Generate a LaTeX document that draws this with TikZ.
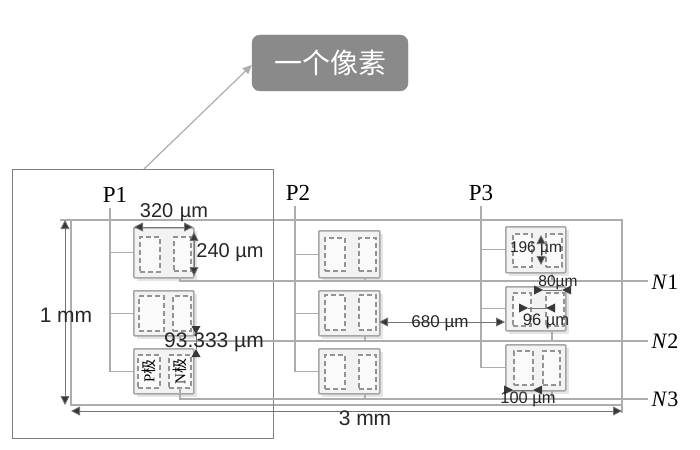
\documentclass[tikz,border=0pt]{standalone}
\usepackage{fontspec}
\setmainfont{Liberation Sans}
\newfontfamily\serifrm{Liberation Serif}
\newfontfamily\cjk{Noto Sans CJK SC}
\usetikzlibrary{arrows.meta}
\definecolor{ln}{gray}{0.68}
\definecolor{lnd}{gray}{0.5}
\definecolor{dark}{gray}{0.22}
\definecolor{titlefill}{gray}{0.54}
\tikzset{
  x=1pt,y=-1pt,
  wire/.style={draw=ln,line width=1.2pt},
  frame/.style={draw=lnd,line width=1.1pt},
  cellbox/.style={draw=gray!70,fill=gray!10,line width=1.5pt,rounded corners=1pt,inner sep=0pt},
  pad/.style={draw=gray!85,fill=gray!4,dashed,dash pattern=on 5pt off 3pt,line width=1.6pt,inner sep=0pt},
  dim/.style={draw=dark!70,line width=.8pt,{Triangle[length=9pt,width=9pt,fill=dark]}-{Triangle[length=9pt,width=9pt,fill=dark]}},
  dimin/.style={draw=dark!70,line width=.8pt},
  tip/.style={fill=dark,draw=none},
  lab/.style={text=black!85,inner sep=0pt,font=\fontsize{#1}{#1}\selectfont},
  plab/.style={inner sep=0pt,font=\serifrm\fontsize{23}{23}\selectfont},
  nlab/.style={inner sep=0pt,font=\serifrm\fontsize{22}{22}\selectfont},
}
\newcommand{\cellat}[5]{% name, x1,y1,x2,y2
  \fill[gray!20] (#2+4,#3+4) rectangle (#4+4,#5+4);
  \node[cellbox,minimum width=#4-#2,minimum height=#5-#3,anchor=north west] (#1) at (#2,#3) {};
}
\newcommand{\padat}[6][]{% text, name, x1,y1,x2,y2
  \node[pad,minimum width=#5-#3,minimum height=#6-#4,anchor=north west] (#2) at (#3,#4) {#1};
}
\newcommand{\tipR}[1]{\fill[tip] (#1) ++(-9,-4.5) -- ++(9,4.5) -- ++(-9,4.5) -- cycle;}
\newcommand{\tipL}[1]{\fill[tip] (#1) ++(9,-4.5) -- ++(-9,4.5) -- ++(9,4.5) -- cycle;}
\newcommand{\tipD}[1]{\fill[tip] (#1) ++(-4.5,-8) -- ++(4.5,8) -- ++(4.5,-8) -- cycle;}
\newcommand{\tipU}[1]{\fill[tip] (#1) ++(-4.5,8) -- ++(4.5,-8) -- ++(4.5,8) -- cycle;}
\begin{document}
\begin{tikzpicture}
\useasboundingbox (0,0) rectangle (700,449);
\fill[white] (0,0) rectangle (700,449);

% grid frame
\coordinate (tl) at (60,220);
\coordinate (tf) at (71,220);
\coordinate (tr) at (622,220);
\coordinate (br) at (622,413);
\coordinate (bl) at (71,405);
\coordinate (brm) at (622,405);
\coordinate (al) at (71,411);
\coordinate (ar) at (622,411);
\draw[wire] (tl) -- (tr) -- (br);
\draw[wire] (tf) -- (bl) -- (brm);

% pixel square
\node[frame,minimum width=261,minimum height=269,anchor=north west,inner sep=0pt] (pixel) at (12,169) {};

% cells
\cellat{a1}{133}{227}{193}{277}
\cellat{a2}{133}{290}{193}{335}
\cellat{a3}{133}{348}{193}{393}
\cellat{b1}{318}{230}{379}{277}
\cellat{b2}{318}{290}{379}{335}
\cellat{b3}{318}{348}{379}{393}
\cellat{c1}{505}{226}{565}{272}
\cellat{c2}{505}{286}{565}{330}
\cellat{c3}{505}{344}{565}{390}

% pads
\padat{pa1}{139}{236}{159}{271}
\padat{qa1}{173}{236}{190}{270}
\padat{pa2}{138}{295}{163}{330}
\padat{qa2}{172}{295}{190}{330}
\padat[\rotatebox{90}{\fontsize{15}{15}\serifrm P\cjk 极}]{pa3}{137}{354}{159}{387}
\padat[\rotatebox{90}{\fontsize{15}{15}\serifrm N\cjk 极}]{qa3}{168}{354}{190}{387}
\padat{pb1}{324}{237}{344}{270}
\padat{qb1}{358}{237}{375}{270}
\padat{pb2}{324}{294}{344}{329}
\padat{qb2}{358}{294}{375}{329}
\padat{pb3}{324}{354}{344}{388}
\padat{qb3}{358}{354}{375}{388}
\padat{pc1}{512}{233}{531}{266}
\padat{qc1}{545}{233}{561}{266}
\padat{pc2}{512}{292}{530}{325}
\padat{qc2}{545}{292}{563}{325}
\padat{pc3}{513}{350}{532}{384}
\padat{qc3}{542}{350}{559}{384}

% P buses
\coordinate (pt1) at (110,208);
\coordinate (pt2) at (295,206);
\coordinate (pt3) at (481,206);
\draw[wire] (pt1) |- (a3.west);
\draw[wire] (pt2) |- (b3.west);
\draw[wire] (pt3) |- (c3.west);
\draw[wire] (pt1 |- a1.west) -- (a1.west);
\draw[wire] (pt1 |- a2.west) -- (a2.west);
\draw[wire] (pt2 |- b1.west) -- (b1.west);
\draw[wire] (pt2 |- b2.west) -- (b2.west);
\draw[wire] (pt3 |- c1.west) -- (c1.west);
\draw[wire] (pt3 |- c2.west) -- (c2.west);

% N buses
\coordinate (n1e) at (648,281);
\coordinate (n2e) at (648,341);
\coordinate (n3e) at (648,399);
\draw[wire] (180,277) |- (n1e);
\draw[wire] (180,335) |- (n2e);
\draw[wire] (180,388) |- (n3e);
\draw[wire] (365,277) -- (365,281);
\draw[wire] (365,335) -- (365,341);
\draw[wire] (365,393) -- (365,399);
\draw[wire] (552,272) -- (552,281);
\draw[wire] (552,330) -- (552,341);
\draw[wire] (552,390) -- (552,399);

% dims
\coordinate (d320a) at (134,227); \coordinate (d320b) at (193,227);
\draw[dim] (d320a) -- (d320b);
\coordinate (d240a) at (194,232); \coordinate (d240b) at (194,276);
\draw[dim] (d240a) -- (d240b);
\coordinate (d93a) at (196,334); \coordinate (d93b) at (196,349);
\tipD{d93a} \tipU{d93b}
\draw[dimin] (d93a) -- (d93b);
\coordinate (d680a) at (379,322); \coordinate (d680b) at (505,322);
\draw[dim] (d680a) -- (d680b);
\coordinate (d196a) at (541,235); \coordinate (d196b) at (541,265);
\draw[dim] (d196a) -- (d196b);
\coordinate (d80a) at (543,290); \coordinate (d80b) at (562,290);
\tipR{d80a} \tipL{d80b}
\draw[dimin] (d80a) -- (d80b);
\coordinate (d96a) at (528,308); \coordinate (d96b) at (546,308);
\tipR{d96a} \tipL{d96b}
\draw[dimin] (d96a) -- (d96b);
\coordinate (d100a) at (513,390); \coordinate (d100b) at (533,390);
\tipR{d100a} \tipL{d100b}
\draw[dimin] (d100a) -- (d100b);
\coordinate (d1a) at (65,220); \coordinate (d1b) at (65,405);
\draw[dim] (d1a) -- (d1b);
\draw[dim] (al) -- (ar);

% labels
\node[lab=20] (t320) at (174,213) {320\,\,µm};
\node[lab=20] (t240) at (230,253) {240 µm};
\node[lab=21] (t93) at (214,342) {93.333 µm};
\node[lab=17] (t680) at (440,323) {680 µm};
\node[lab=15.5] (t196) at (536,249) {196 µm};
\node[lab=15.5] (t80) at (558,283) {80µm};
\node[lab=16.5] (t96) at (546,321) {96 µm};
\node[lab=16.5] (t100) at (528,399) {100 µm};
\node[lab=21] (t1) at (66,315) {1 mm};
\node[lab=21] (t3) at (365,418) {3 mm};

\node[plab] (P1) at (115,195) {P1};
\node[plab] (P2) at (298,193) {P2};
\node[plab] (P3) at (481,193) {P3};
\node[nlab] (N1) at (665,282) {\textit{N}1};
\node[nlab] (N2) at (665,341) {\textit{N}2};
\node[nlab] (N3) at (665,399) {\textit{N}3};

% title
\node[draw=gray!90,fill=titlefill,rounded corners=8pt,minimum width=156,minimum height=56,inner sep=0pt,text=white,font=\cjk\fontsize{28}{28}\selectfont] (title) at (330,63) {一个像素};
\coordinate (src) at (144,169);
\draw[draw=ln,line width=1.2pt,-{Triangle[length=9pt,width=8pt,fill=ln]}] (src) -- ([yshift=-2pt]title.west);
\end{tikzpicture}
\end{document}
